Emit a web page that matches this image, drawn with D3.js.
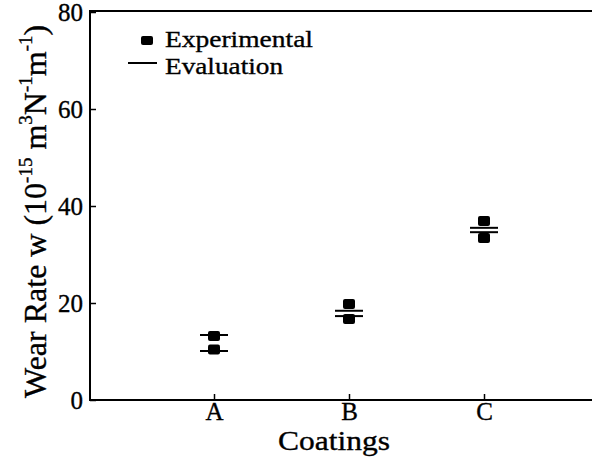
<!DOCTYPE html>
<html><head><meta charset="utf-8">
<script src="https://cdn.jsdelivr.net/npm/d3@7"></script>
<style>body{margin:0;background:#fff}svg{display:block}text{font-family:"Liberation Serif","Times New Roman",serif;fill:#000;stroke:#000;stroke-width:0.35px}</style>
</head><body>
<script>
const categories = ["A", "B", "C"];
const expHigh = [13.2, 19.8, 36.9];
const expLow = [10.4, 16.7, 33.4];
const evalHigh = [13.4, 18.4, 35.5];
const evalLow = [10.1, 17.3, 34.6];
const yTicks = [0, 20, 40, 60, 80];

const W = 592, H = 457;
const svg = d3.select("body").append("svg").attr("width", W).attr("height", H);

const y = d3.scaleLinear().domain([0, 80]).range([400, 12]);
const x = d3.scalePoint().domain(categories).range([214, 484]);

// frame
const frame = svg.append("g").attr("stroke", "#000").attr("stroke-width", 2);
frame.append("line").attr("x1", 90).attr("x2", 90).attr("y1", 11).attr("y2", 401);
frame.append("line").attr("x1", 89).attr("x2", W).attr("y1", 11).attr("y2", 11);
frame.append("line").attr("x1", 89).attr("x2", W).attr("y1", 400).attr("y2", 400);

const ya = svg.append("g").attr("transform", "translate(90,0)")
  .call(d3.axisLeft(y).tickValues(yTicks).tickSize(-6).tickPadding(7));
ya.select(".domain").remove();
ya.selectAll("line").attr("stroke-width", 1.5);
ya.selectAll("text").attr("font-size", 25);

const xa = svg.append("g").attr("transform", "translate(0,400)")
  .call(d3.axisBottom(x).tickSize(-6).tickPadding(2.5));
xa.select(".domain").remove();
xa.selectAll("line").attr("stroke-width", 1.5);
xa.selectAll("text").attr("font-size", 25);

// axis titles
svg.append("text").attr("x", 334).attr("y", 450).attr("text-anchor", "middle")
  .attr("font-size", 27).attr("textLength", 112).attr("lengthAdjust", "spacingAndGlyphs")
  .text("Coatings");

const yt = svg.append("text").attr("transform", "translate(46,398) rotate(-90)")
  .attr("font-size", 32);
yt.append("tspan").text("Wear Rate  w (10");
yt.append("tspan").attr("font-size", 19).attr("dy", -14).text("-15");
yt.append("tspan").attr("dy", 14).text(" m");
yt.append("tspan").attr("font-size", 19).attr("dy", -14).text("3");
yt.append("tspan").attr("dy", 14).text("N");
yt.append("tspan").attr("font-size", 19).attr("dy", -14).text("-1");
yt.append("tspan").attr("dy", 14).text("m");
yt.append("tspan").attr("font-size", 19).attr("dy", -14).text("-1");
yt.append("tspan").attr("dy", 14).text(")");

// markers
const mw = 12, mh = 10;
const pts = [];
categories.forEach((c, i) => { pts.push({c, v: expHigh[i]}); pts.push({c, v: expLow[i]}); });
svg.append("g").selectAll("rect").data(pts).join("rect")
  .attr("x", d => x(d.c) - mw / 2).attr("y", d => y(d.v) - mh / 2)
  .attr("width", mw).attr("height", mh).attr("rx", 2).attr("fill", "#000");

const evs = [];
categories.forEach((c, i) => { evs.push({c, v: evalHigh[i]}); evs.push({c, v: evalLow[i]}); });
svg.append("g").selectAll("line").data(evs).join("line")
  .attr("x1", d => x(d.c) - 14).attr("x2", d => x(d.c) + 14)
  .attr("y1", d => y(d.v)).attr("y2", d => y(d.v))
  .attr("stroke", "#000").attr("stroke-width", 2);

// legend
const lg = svg.append("g");
lg.append("rect").attr("x", 141).attr("y", 36).attr("width", mw).attr("height", mh - 1).attr("rx", 2).attr("fill", "#000");
lg.append("text").attr("x", 165).attr("y", 47).attr("font-size", 24)
  .attr("textLength", 148).attr("lengthAdjust", "spacingAndGlyphs").text("Experimental");
lg.append("line").attr("x1", 128).attr("x2", 157).attr("y1", 63).attr("y2", 63).attr("stroke", "#000").attr("stroke-width", 2);
lg.append("text").attr("x", 165).attr("y", 74).attr("font-size", 24)
  .attr("textLength", 118).attr("lengthAdjust", "spacingAndGlyphs").text("Evaluation");
</script>
</body></html>
